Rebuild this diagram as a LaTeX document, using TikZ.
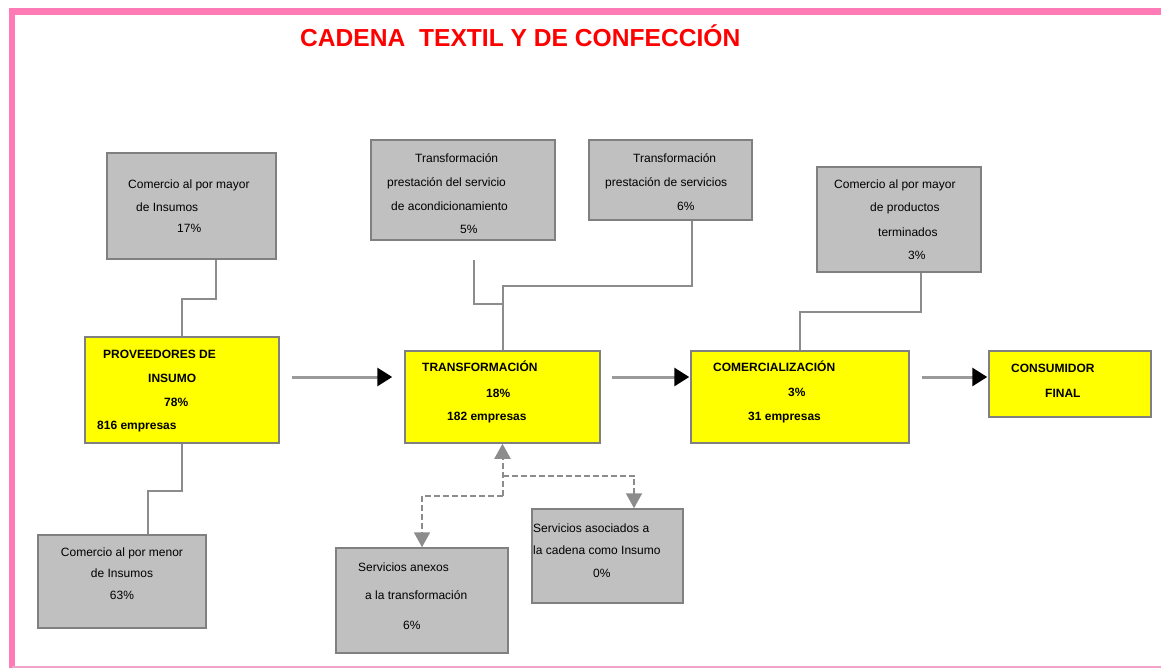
\documentclass[tikz,border=0pt]{standalone}
\usepackage{fontspec}
\setmainfont{Liberation Sans}
\usetikzlibrary{arrows.meta,calc}
\definecolor{pinkb}{HTML}{FF7BB5}
\definecolor{pinkl}{HTML}{F2A3C9}
\definecolor{boxgray}{HTML}{C0C0C0}
\definecolor{boxyellow}{RGB}{255,255,0}
\definecolor{edgegray}{HTML}{808080}
\definecolor{linegray}{HTML}{8C8C8C}
\definecolor{flowgray}{HTML}{9A9A9A}
\definecolor{titlered}{RGB}{255,0,0}
\tikzset{
  gbox/.style={draw=edgegray, line width=1.5pt, fill=boxgray, inner sep=0pt},
  ybox/.style={draw=edgegray, line width=1.5pt, fill=boxyellow, inner sep=0pt},
  txt/.style={anchor=base west, inner sep=0pt, font=\fontsize{12}{14}\selectfont},
  ctxt/.style={anchor=base, inner sep=0pt, font=\fontsize{12}{14}\selectfont},
  btxt/.style={anchor=base west, inner sep=0pt, font=\fontsize{12}{14}\selectfont\bfseries},
  conn/.style={draw=linegray, line width=2pt},
  dconn/.style={draw=linegray, line width=2pt, dash pattern=on 6pt off 3pt, -{Triangle[length=15pt,width=16pt,color=linegray]}},
  flow/.style={draw=flowgray, line width=3pt, -{Triangle[length=15pt,width=18pt,color=black]}}
}
\begin{document}
\begin{tikzpicture}[x=1pt,y=-1pt]
\useasboundingbox (0,0) rectangle (1161,668);
% frame
\draw[pinkb, line width=6.5pt] (12,668) -- (12,11.5) -- (1161,11.5);
\draw[pinkl, line width=1.5pt] (12,667.2) -- (1161,667.2);
% title
\node[anchor=base west, inner sep=0pt, text=titlered, font=\fontsize{24.6}{28}\selectfont\bfseries] (title) at (300,47) {CADENA\ \ TEXTIL Y DE CONFECCIÓN};
% boxes
\node[gbox, minimum width=169pt, minimum height=106pt] (A) at (191.5,206) {};
\node[ybox, minimum width=194pt, minimum height=106pt] (P) at (182,390) {};
\node[gbox, minimum width=168pt, minimum height=93pt] (B) at (122,581.5) {};
\node[ybox, minimum width=195pt, minimum height=92pt] (T) at (502.5,397) {};
\node[ybox, minimum width=218pt, minimum height=92pt] (C) at (800,397) {};
\node[ybox, minimum width=162pt, minimum height=66pt] (F) at (1070,384) {};
\node[gbox, minimum width=164pt, minimum height=105pt] (D) at (899,219.5) {};
\node[gbox, minimum width=184pt, minimum height=100pt] (E1) at (463,190) {};
\node[gbox, minimum width=163pt, minimum height=80pt] (E2) at (670.5,180) {};
\node[gbox, minimum width=172pt, minimum height=105pt] (G) at (422,600.5) {};
\node[gbox, minimum width=151pt, minimum height=94pt] (H) at (607.5,556) {};
% texts A
\node[txt] (a1) at (128,189) {Comercio al por mayor};
\node[txt] (a2) at (136,212) {de Insumos};
\node[txt] (a3) at (177,233) {17\%};
% texts P
\node[btxt] (p1) at (103,358) {PROVEEDORES DE};
\node[btxt] (p2) at (148,382) {INSUMO};
\node[btxt] (p3) at (164,406) {78\%};
\node[btxt] (p4) at (97,429) {816 empresas};
% texts B
\node[ctxt] (b1) at (122,556) {Comercio al por menor};
\node[ctxt] (b2) at (122,577) {de Insumos};
\node[ctxt] (b3) at (122,599) {63\%};
% texts T
\node[btxt] (t1) at (422,371) {TRANSFORMACIÓN};
\node[btxt] (t2) at (486,397) {18\%};
\node[btxt] (t3) at (447,420) {182 empresas};
% texts C
\node[btxt] (c1) at (713,371) {COMERCIALIZACIÓN};
\node[btxt] (c2) at (788,396) {3\%};
\node[btxt] (c3) at (748,420) {31 empresas};
% texts F
\node[btxt] (f1) at (1011,372) {CONSUMIDOR};
\node[btxt] (f2) at (1045,397) {FINAL};
% texts D
\node[txt] (d1) at (834,189) {Comercio al por mayor};
\node[txt] (d2) at (870,212) {de productos};
\node[txt] (d3) at (878,237) {terminados};
\node[txt] (d4) at (908,260) {3\%};
% texts E1
\node[txt] (e11) at (415,163) {Transformación};
\node[txt] (e12) at (387,187) {prestación del servicio};
\node[txt] (e13) at (391,211) {de acondicionamiento};
\node[txt] (e14) at (460,234) {5\%};
% texts E2
\node[txt] (e21) at (633,163) {Transformación};
\node[txt] (e22) at (605,187) {prestación de servicios};
\node[txt] (e23) at (677,211) {6\%};
% texts G
\node[txt] (g1) at (358,571) {Servicios anexos};
\node[txt] (g2) at (365,599) {a la transformación};
\node[txt] (g3) at (403,629) {6\%};
% texts H
\node[txt] (h1) at (533,532) {Servicios asociados a};
\node[txt] (h2) at (533,554) {la cadena como Insumo};
\node[txt] (h3) at (593,577) {0\%};
% solid connectors
\draw[conn] ([xshift=24.5pt]A.south) -- ++(0,39) -| (P.north);
\draw[conn] (P.south) -- ++(0,47) -| ([xshift=26pt]B.north);
\draw[conn] ([xshift=21.5pt]E2.south) -- ++(0,65) -| (T.north);
\coordinate (e1s) at ([xshift=11pt,yshift=-19pt]E1.south);
\coordinate (j1) at ($(T.north)+(0,-46)$);
\draw[conn] (e1s) |- (j1);
\draw[conn] ([xshift=22pt]D.south) -- ++(0,39) -| (C.north);
% flow arrows
\draw[flow] ($(P.east)+(12,-13)$) -- ($(T.west)+(-12,-20)$);
\draw[flow] ($(T.east)+(11,-20)$) -- ($(C.west)+(-1,-20)$);
\draw[flow] ($(C.east)+(12,-20)$) -- ($(F.west)+(-1,-7)$);
% dashed connectors
\coordinate (jd1) at ($(T.south)+(0,32)$);
\coordinate (jd2) at ($(T.south)+(0,52)$);
\draw[dconn] (jd2) -- (T.south);
\draw[dconn] (jd1) -| ([xshift=26.5pt]H.north);
\draw[dconn] (jd2) -| (G.north);
\end{tikzpicture}
\end{document}
